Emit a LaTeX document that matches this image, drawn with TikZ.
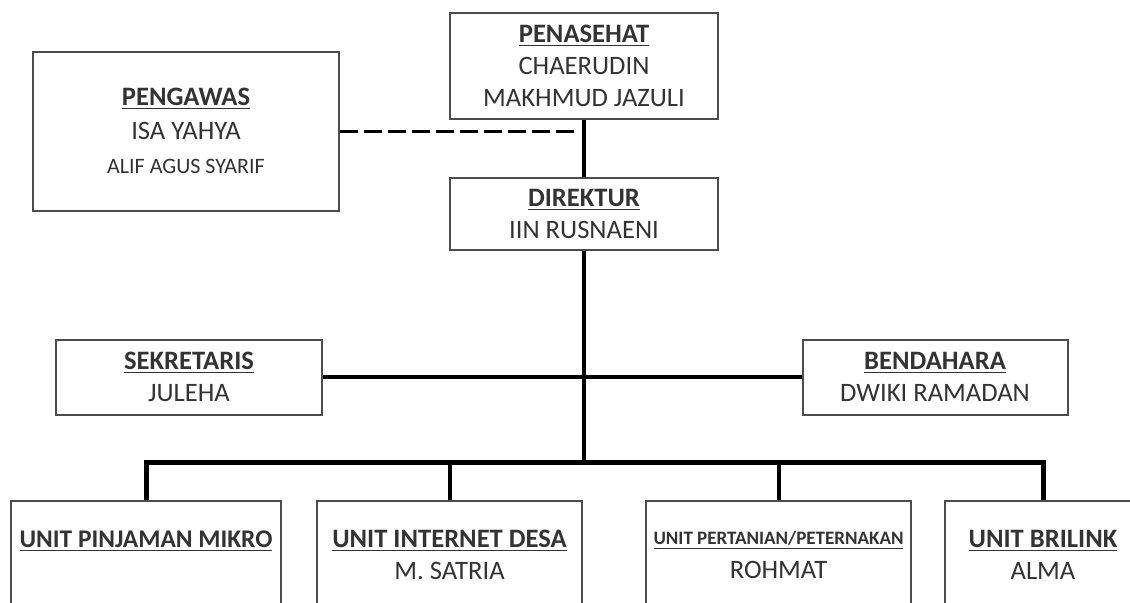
\documentclass[tikz,border=0pt]{standalone}
\usepackage{fontspec}
\setmainfont{Carlito}
\newcommand{\ttl}[1]{\underline{\textbf{#1}}}

\begin{document}
\begin{tikzpicture}[x=0.5pt, y=-0.5pt,
  box/.style={draw=black!70, line width=1pt, align=center, inner sep=0pt,
    text=black!80, font=\fontsize{13.3}{16}\selectfont},
  link/.style={line width=2pt},
  bus/.style={line width=2.5pt}]

\path[use as bounding box, fill=white] (0,0) rectangle (1130,602);
\clip (0,0) rectangle (1130,602);

%Draw Upper Boxes
\node[box, minimum width=134pt, minimum height=53pt] (pen) at (584,66)
  {\ttl{PENASEHAT}\\CHAERUDIN\\MAKHMUD JAZULI};
\node[box, minimum width=153pt, minimum height=79.5pt] (pgw) at (186,131)
  {\ttl{PENGAWAS}\\[1pt]ISA YAHYA\\[1pt]{\fontsize{11}{13}\selectfont ALIF AGUS SYARIF}};
\node[box, minimum width=134pt, minimum height=36pt] (dir) at (584,214)
  {\ttl{DIREKTUR}\\IIN RUSNAENI};

%Draw Middle Boxes
\node[box, minimum width=133pt, minimum height=37.5pt] (sek) at (189,377)
  {\ttl{SEKRETARIS}\\JULEHA};
\node[box, minimum width=132.5pt, minimum height=37.5pt] (ben) at (935,377)
  {\ttl{BENDAHARA}\\DWIKI RAMADAN};

%Draw Unit Boxes
\node[box, minimum width=135pt, minimum height=54pt] (u1) at (146,555)
  {{\fontsize{12.7}{16}\selectfont\ttl{UNIT PINJAMAN MIKRO}}\\\mbox{}};
\node[box, minimum width=132.5pt, minimum height=54pt] (u2) at (449.5,555)
  {\ttl{UNIT INTERNET DESA}\\M. SATRIA};
\node[box, minimum width=132.5pt, minimum height=54pt] (u3) at (778.5,555)
  {{\fontsize{9.5}{12}\selectfont\ttl{UNIT PERTANIAN/PETERNAKAN}}\\[1pt]ROHMAT};
\node[box, minimum width=98pt, minimum height=54pt] (u4) at (1043,555)
  {\ttl{UNIT BRILINK}\\ALMA};

%Draw Connectors
\coordinate (bus) at (584,462);
\draw[link] (pen.south) -- (dir.north);
\draw[line width=1.5pt, dash pattern=on 9pt off 3pt, shorten >=4pt]
  (pgw.east) -- (pgw.east -| pen.south);
\draw[link] (dir.south) -- (bus);
\draw[link] (sek.east) -- (ben.west);
\draw[bus, line join=miter] (u1.north) |- (bus) -| (u4.north);
\draw[link] (u2.north) -- (u2.north |- bus);
\draw[link] (u3.north) -- (u3.north |- bus);

\end{tikzpicture}
\end{document}
